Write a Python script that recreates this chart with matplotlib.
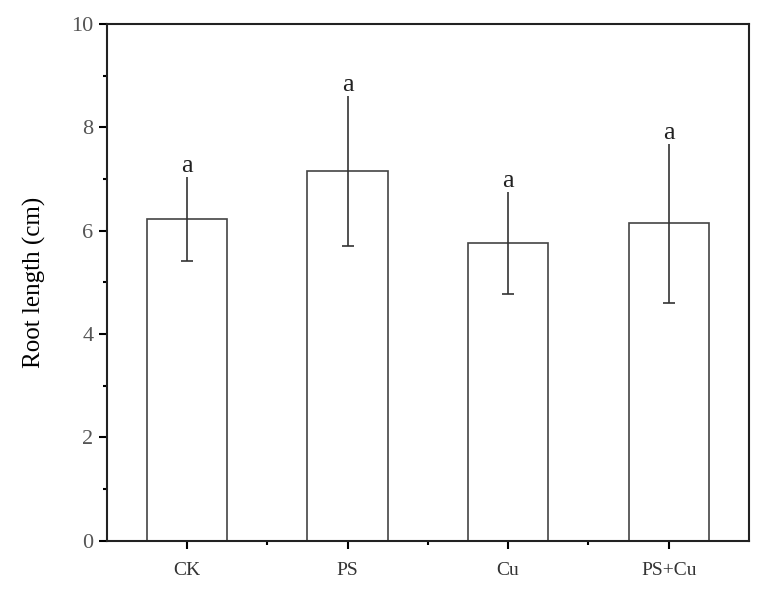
import matplotlib
matplotlib.use('Agg')
import matplotlib.pyplot as plt
from matplotlib.ticker import MultipleLocator, FixedLocator

plt.rcParams['font.family'] = ['Liberation Serif', 'DejaVu Serif']

groups = ['CK', 'PS', 'Cu', 'PS+Cu']
root_len = [6.23, 7.15, 5.76, 6.14]
root_err = [0.81, 1.45, 0.98, 1.54]
letters = ['a', 'a', 'a', 'a']

fig = plt.figure(figsize=(7.65, 5.92), dpi=100)
ax = fig.add_axes([0.1395, 0.0867, 0.8395, 0.8728])

x = range(len(groups))
ax.bar(x, root_len, width=0.5, color='white', edgecolor='#444444', linewidth=1.2, zorder=2)
ax.errorbar(x, root_len, yerr=root_err, fmt='none', ecolor='#333333', elinewidth=1.2,
            capsize=0, zorder=3)
# caps only at the lower end
lows = [v - e for v, e in zip(root_len, root_err)]
ax.plot(x, lows, ls='none', marker='_', ms=9, mew=1.2, color='#333333', zorder=3)

for xi, v, e, lab in zip(x, root_len, root_err, letters):
    ax.text(xi, v + e, lab, ha='center', va='bottom', fontsize=19, color='#222222')

ax.set_xlim(-0.5, 3.5)
ax.set_ylim(0, 10)
ax.set_xticks(list(x))
ax.set_xticklabels(groups, fontsize=14, color='#333333')
ax.xaxis.set_minor_locator(FixedLocator([0.5, 1.5, 2.5]))
ax.yaxis.set_major_locator(MultipleLocator(2))
ax.yaxis.set_minor_locator(MultipleLocator(1))
ax.tick_params(axis='y', labelsize=16, labelcolor='#555555', direction='out', length=6, width=1.5)
ax.tick_params(axis='x', direction='out', length=6, width=1.5, pad=9)
ax.tick_params(which='minor', direction='out', length=3, width=1.5)
ax.set_ylabel('Root length (cm)', fontsize=18, labelpad=18)

for s in ax.spines.values():
    s.set_linewidth(1.5)
    s.set_color('#222222')

fig.savefig('out.png', dpi=100)
